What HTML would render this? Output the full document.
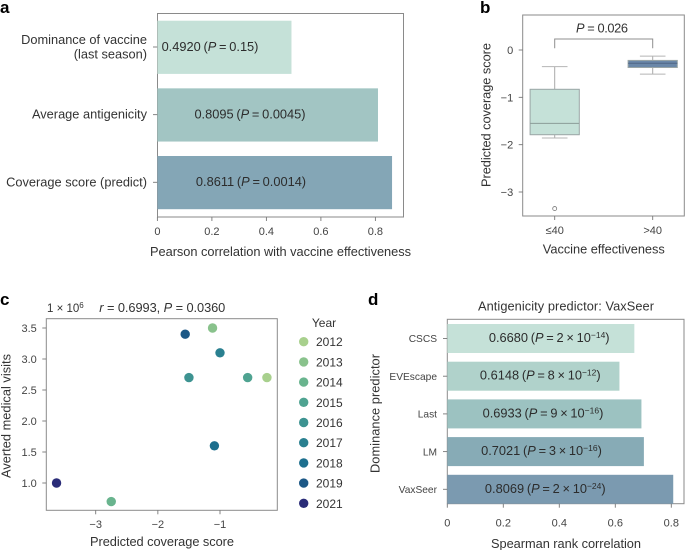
<!DOCTYPE html>
<html lang="en">
<head>
<meta charset="utf-8">
<title>Vaccine coverage score figure</title>
<style>
html,body{margin:0;padding:0;background:#fff;width:685px;height:550px;overflow:hidden}
svg{display:block}
text{font-family:"Liberation Sans",sans-serif;fill:#333;font-size:11.5px}
.big{font-size:12.8px}
.leg{font-size:12px}
.tick{font-size:11px;fill:#444}
.cat{font-size:10.2px;fill:#444}
.plab{font-size:12.8px;fill:#2c2c2c;word-spacing:-0.8px}
.letter{font-size:17px;font-weight:bold;fill:#000}
</style>
</head>
<body>
<svg id="fig" width="685" height="550" viewBox="0 0 685 550" xmlns="http://www.w3.org/2000/svg">
  <text class="letter" x="0" y="13">a</text>
  <text class="letter" x="480" y="13">b</text>
  <text class="letter" x="0" y="305">c</text>
  <text class="letter" x="368" y="305">d</text>

  <text class="big" x="280.5" y="256" text-anchor="middle" textLength="261">Pearson correlation with vaccine effectiveness</text>
  <text class="big" x="603.8" y="253.5" text-anchor="middle" textLength="122">Vaccine effectiveness</text>
  <text class="big" transform="translate(490.5,115) rotate(-90)" text-anchor="middle" textLength="144">Predicted coverage score</text>
  <text class="big" x="162" y="546" text-anchor="middle" textLength="144">Predicted coverage score</text>
  <text class="big" transform="translate(10.5,416) rotate(-90)" text-anchor="middle" textLength="124">Averted medical visits</text>
  <text x="47" y="312" font-size="11.5">1 × 10<tspan dy="-4" font-size="8">6</tspan></text>
  <text class="big" x="99.3" y="312" textLength="126"><tspan font-style="italic">r</tspan> = 0.6993, <tspan font-style="italic">P</tspan> = 0.0360</text>
  <text x="324" y="327" class="leg" text-anchor="middle">Year</text>
  <text class="big" x="566" y="310.5" text-anchor="middle" textLength="176">Antigenicity predictor: VaxSeer</text>
  <text class="big" x="566" y="548" text-anchor="middle" textLength="150">Spearman rank correlation</text>
  <text class="big" transform="translate(379.5,413.5) rotate(-90)" text-anchor="middle" textLength="119">Dominance predictor</text>
  <text class="big" x="602" y="32.5" text-anchor="middle" textLength="52"><tspan font-style="italic">P</tspan> = 0.026</text>
  <g id="marks"></g>
</svg>
<script>
// Panel a
const aCategories = [["Dominance of vaccine", "(last season)"], ["Average antigenicity"], ["Coverage score (predict)"]];
const aValues = [0.4920, 0.8095, 0.8611];
const aPValues = ["0.15", "0.0045", "0.0014"];
const aTicks = [0, 0.2, 0.4, 0.6, 0.8];
const aTickLabels = ["0", "0.2", "0.4", "0.6", "0.8"];
// Panel b
const bGroups = ["≤40", ">40"];
const bQ1 = [-1.79, -0.37];
const bMedian = [-1.55, -0.28];
const bQ3 = [-0.83, -0.22];
const bWhiskerLow = [-1.86, -0.51];
const bWhiskerHigh = [-0.35, -0.13];
const bOutliers = [-3.35];
const bTicks = [0, -1, -2, -3];
const bTickLabels = ["0", "−1", "−2", "−3"];
// Panel c
const cYears = ["2012", "2013", "2014", "2015", "2016", "2017", "2018", "2019", "2021"];
const cScores = [-0.245, -1.12, -2.75, -0.555, -1.5, -1.0, -1.09, -1.56, -3.63];
const cVisits = [2.7, 3.5, 0.7, 2.7, 2.7, 3.1, 1.6, 3.4, 1.0];
const cXTicks = [-3, -2, -1];
const cXTickLabels = ["−3", "−2", "−1"];
const cYTicks = [3.5, 3.0, 2.5, 2.0, 1.5, 1.0];
const cYTickLabels = ["3.5", "3.0", "2.5", "2.0", "1.5", "1.0"];
// Panel d
const dCategories = ["CSCS", "EVEscape", "Last", "LM", "VaxSeer"];
const dValues = [0.6680, 0.6148, 0.6933, 0.7021, 0.8069];
const dPMantissa = ["2", "8", "9", "3", "2"];
const dPExponent = ["−14", "−12", "−16", "−16", "−24"];
const dTicks = [0, 0.2, 0.4, 0.6, 0.8];
const dTickLabels = ["0", "0.2", "0.4", "0.6", "0.8"];

const aColors = ["#c5e1d8", "#a2c5c3", "#84a6b6"];
const bColors = ["#c5e1d8", "#6a87a8"];
const cColors = ["#a8d08d", "#89c28c", "#69b48e", "#4fa391", "#3d9391", "#2a8090", "#1d6f8e", "#1c5886", "#2a2c78"];
const dColors = ["#c5e1d8", "#b0d2cb", "#9cc2c1", "#87abb6", "#7b9ab0"];

const SVGNS = "http://www.w3.org/2000/svg";
const root = document.getElementById("marks");
function make(tag, attrs, parent) {
  const n = document.createElementNS(SVGNS, tag);
  for (const k in attrs) n.setAttribute(k, attrs[k]);
  (parent || root).appendChild(n);
  return n;
}
function linear(d0, d1, r0, r1) { return v => r0 + (v - d0) * (r1 - r0) / (d1 - d0); }
function span(parent, text, attrs) {
  const t = make("tspan", attrs || {}, parent);
  t.textContent = text;
  return t;
}
function frame(x0, y0, x1, y1, name) {
  const el = make("rect", {x: x0, y: y0, width: x1 - x0, height: y1 - y0, fill: "none", stroke: "#8a8a8a", "stroke-width": 1});
  
  
}
function xTick(px, y, label, name, pad) {
  const l = make("line", {x1: px, x2: px, y1: y, y2: y + 4, stroke: "#777", "stroke-width": 0.9});
  
  
  const t = make("text", {x: px, y: y + pad, "text-anchor": "middle", class: "tick"});
  t.textContent = label;
  
  
}
function yTick(x, py, label, name) {
  const l = make("line", {x1: x - 4, x2: x, y1: py, y2: py, stroke: "#777", "stroke-width": 0.9});
  
  
  const t = make("text", {x: x - 9.5, y: py + 4, "text-anchor": "end", class: "tick"});
  t.textContent = label;
  
  
}

// ---- Panel a ----
const axA = linear(0, 0.8, 157.4, 375.4);
const aBandTop = 20.7, aBandPitch = 67.65, aBandH = 53.2;
const aLabelCx = [210, 250, 251];
frame(157.5, 13.5, 403.5, 217, "panel-a-frame");
aValues.forEach((v, i) => {
  const top = aBandTop + i * aBandPitch;
  const bar = make("rect", {x: axA(0), y: top, width: axA(v) - axA(0), height: aBandH, fill: aColors[i]});
  
  
  const lab = make("text", {x: aLabelCx[i], y: top + aBandH / 2 + 3.5, "text-anchor": "middle", class: "plab"});
  
  
  span(lab, v.toFixed(4) + " (");
  span(lab, "P", {"font-style": "italic"});
  span(lab, " = " + aPValues[i] + ")");
  const cy = top + aBandH / 2 - 0.3;
  const tk = make("line", {x1: 153, x2: 157.5, y1: cy, y2: cy, stroke: "#777", "stroke-width": 0.9});
  
  
  const lines = aCategories[i];
  lines.forEach((s, j) => {
    const t = make("text", {x: 147, y: cy + 4 + (j - (lines.length - 1) / 2) * 14.5, "text-anchor": "end", class: "big"});
    t.textContent = s;
    
    
  });
});
aTicks.forEach((v, i) => xTick(axA(v), 217, aTickLabels[i], "panel-a-x", 18));

// ---- Panel b ----
const ayB = linear(0, -3, 50, 192);
const bCx = [554.7, 652.7];
const boxHalf = 24.6, capHalf = 12.8;
frame(522.7, 15, 684.3, 216, "panel-b-frame");
bTicks.forEach((v, i) => yTick(522.7, ayB(v), bTickLabels[i], "panel-b-y"));
bGroups.forEach((g, i) => {
  const cx = bCx[i];
  xTick(cx, 216, g, "panel-b-x", 18);
  [[bQ3[i], bWhiskerHigh[i]], [bQ1[i], bWhiskerLow[i]]].forEach(p => {
    const w = make("line", {x1: cx, x2: cx, y1: ayB(p[0]), y2: ayB(p[1]), stroke: "#a9a9a9", "stroke-width": 1});
    
    
    const c = make("line", {x1: cx - capHalf, x2: cx + capHalf, y1: ayB(p[1]), y2: ayB(p[1]), stroke: "#b4b4b4", "stroke-width": 1});
    
    
  });
  const box = make("rect", {x: cx - boxHalf, y: ayB(bQ3[i]), width: boxHalf * 2, height: ayB(bQ1[i]) - ayB(bQ3[i]), fill: bColors[i], stroke: "#9aa5a5", "stroke-width": 1});
  
  
  const med = make("line", {x1: cx - boxHalf, x2: cx + boxHalf, y1: ayB(bMedian[i]), y2: ayB(bMedian[i]), stroke: i ? "#4f6685" : "#8b9c98", "stroke-width": 1});
  
  
});
bOutliers.forEach(v => {
  const o = make("circle", {cx: bCx[0], cy: ayB(v), r: 2, fill: "#fff", stroke: "#777", "stroke-width": 0.8});
  
  
});
const bracket = make("path", {d: `M${bCx[0]} 48.3V39H${bCx[1]}V48.3`, fill: "none", stroke: "#8f8f8f", "stroke-width": 1});



// ---- Panel c ----
const axC = linear(-3, -1, 95.7, 220);
const ayC = linear(1, 3.5, 483, 328);
frame(46.3, 318.7, 277.3, 510.3, "panel-c-frame");
cXTicks.forEach((v, i) => xTick(axC(v), 510.3, cXTickLabels[i], "panel-c-x", 17.5));
cYTicks.forEach((v, i) => yTick(46.3, ayC(v), cYTickLabels[i], "panel-c-y"));
cYears.forEach((y, i) => {
  const p = make("circle", {cx: axC(cScores[i]), cy: ayC(cVisits[i]), r: 4.7, fill: cColors[i]});
  
  
  const ly = 341.7 + i * 20.2;
  const sw = make("circle", {cx: 303.7, cy: ly, r: 4.7, fill: cColors[i]});
  
  
  const t = make("text", {x: 316, y: ly + 4.5, class: "leg"});
  t.textContent = y;
  
  
});

// ---- Panel d ----
const axD = linear(0, 0.8, 447.3, 671.3);
const dBandTop = 324, dBandPitch = 37.7, dBandH = 29;
const dLabelCx = [549.2, 540.3, 543, 541.5, 545.3];
frame(447.3, 319.3, 684, 503.7, "panel-d-frame");
dValues.forEach((v, i) => {
  const top = dBandTop + i * dBandPitch;
  const bar = make("rect", {x: axD(0), y: top, width: axD(v) - axD(0), height: dBandH, fill: dColors[i]});
  
  
  const lab = make("text", {x: dLabelCx[i], y: top + dBandH / 2 + 3.5, "text-anchor": "middle", class: "plab"});
  
  
  span(lab, v.toFixed(4) + " (");
  span(lab, "P", {"font-style": "italic"});
  span(lab, " = " + dPMantissa[i] + " × 10");
  span(lab, dPExponent[i], {dy: -4, "font-size": 8.5});
  span(lab, ")", {dy: 4});
  const cy = top + dBandH / 2;
  const tk = make("line", {x1: 443, x2: 447.3, y1: cy, y2: cy, stroke: "#777", "stroke-width": 0.9});
  
  
  const t = make("text", {x: 437, y: cy + 3.7, "text-anchor": "end", class: "cat"});
  t.textContent = dCategories[i];
  
  
});
dTicks.forEach((v, i) => xTick(axD(v), 503.7, dTickLabels[i], "panel-d-x", 23));
</script>
</body>
</html>
